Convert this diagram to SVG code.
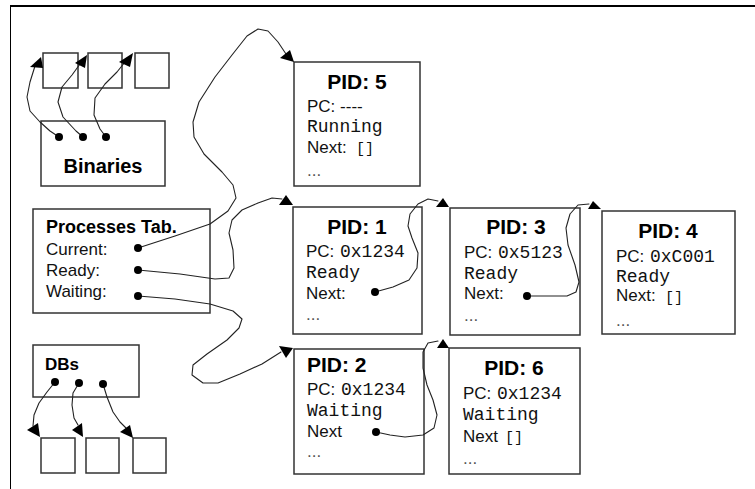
<svg xmlns="http://www.w3.org/2000/svg" width="755" height="489" viewBox="0 0 755 489">
<style>
.box{fill:#fff;stroke:#333;stroke-width:1.5}
.t{font-family:"Liberation Sans",Arial,sans-serif;font-size:17px;fill:#111}
.h{font-family:"Liberation Sans",Arial,sans-serif;font-size:21px;font-weight:bold;fill:#000}
.hs{font-family:"Liberation Sans",Arial,sans-serif;font-size:17px;font-weight:bold;fill:#000}
.m{font-family:"Liberation Mono","Courier New",monospace;font-size:18px;fill:#111}
.br{font-family:"Liberation Mono","Courier New",monospace;font-size:15px;fill:#111}
.dim{fill:#555}
.c{text-anchor:middle}
.conn{fill:none;stroke:#222;stroke-width:1.1;stroke-linejoin:round;stroke-linecap:round}
.dot{fill:#000}
.ah{fill:#000}
.frame{stroke:#000;fill:none}
</style>
<g id="frame">
<line class="frame" x1="10" y1="6" x2="755" y2="6" stroke-width="2"/>
<line class="frame" x1="10.5" y1="6" x2="10.5" y2="489" stroke-width="1"/>
</g>
<g id="binaries-targets">
<rect class="box" x="43" y="53" width="35" height="35"/>
<rect class="box" x="88" y="53" width="34" height="35"/>
<rect class="box" x="135" y="53" width="34" height="35"/>
</g>
<g id="binaries">
<rect class="box" x="41" y="121" width="124" height="65"/>
<text class="h c" x="103" y="173" style="font-size:20px">Binaries</text>
</g>
<g id="processes-tab">
<rect class="box" x="33" y="209" width="177" height="104"/>
<text class="hs" x="46" y="233" style="font-size:18px">Processes Tab.</text>
<text class="t" x="46" y="255">Current:</text>
<text class="t" x="46" y="276">Ready:</text>
<text class="t" x="46" y="297">Waiting:</text>
</g>
<g id="dbs">
<rect class="box" x="33" y="345" width="106" height="52"/>
<text class="hs" x="45" y="370">DBs</text>
</g>
<g id="db-targets">
<rect class="box" x="41" y="438" width="34" height="35"/>
<rect class="box" x="86" y="438" width="33" height="35"/>
<rect class="box" x="133" y="438" width="33" height="35"/>
</g>
<g id="pid5">
<rect class="box" x="294" y="62" width="126" height="124"/>
<text class="h c" x="357" y="89">PID: 5</text>
<text class="t" x="307" y="112">PC: ----</text>
<text class="m" x="307" y="132">Running</text>
<text class="t" x="307" y="153">Next:</text>
<text class="br" x="356" y="153">[]</text>
<text class="t dim" x="307" y="176">...</text>
</g>
<g id="pid1">
<rect class="box" x="293" y="207" width="129" height="127"/>
<text class="h c" x="357" y="234">PID: 1</text>
<text class="t" x="306" y="257">PC:</text>
<text class="m" x="340" y="257">0x1234</text>
<text class="m" x="306" y="278">Ready</text>
<text class="t" x="306" y="299">Next:</text>
<text class="t dim" x="306" y="320">...</text>
</g>
<g id="pid3">
<rect class="box" x="450" y="208" width="130" height="127"/>
<text class="h c" x="516" y="234">PID: 3</text>
<text class="t" x="464" y="258">PC:</text>
<text class="m" x="498" y="258">0x5123</text>
<text class="m" x="464" y="279">Ready</text>
<text class="t" x="464" y="299">Next:</text>
<text class="t dim" x="464" y="321">...</text>
</g>
<g id="pid4">
<rect class="box" x="602" y="211" width="133" height="123"/>
<text class="h c" x="668" y="238">PID: 4</text>
<text class="t" x="616" y="262">PC:</text>
<text class="m" x="650" y="262">0xC001</text>
<text class="m" x="616" y="282">Ready</text>
<text class="t" x="616" y="301">Next:</text>
<text class="br" x="665" y="302">[]</text>
<text class="t dim" x="616" y="326">...</text>
</g>
<g id="pid2">
<rect class="box" x="294" y="349" width="130" height="125"/>
<text class="h" x="307" y="372">PID: 2</text>
<text class="t" x="307" y="395">PC:</text>
<text class="m" x="341" y="395">0x1234</text>
<text class="m" x="307" y="416">Waiting</text>
<text class="t" x="307" y="437">Next</text>
<text class="t dim" x="307" y="457">...</text>
</g>
<g id="pid6">
<rect class="box" x="449" y="348" width="131" height="126"/>
<text class="h c" x="514" y="375">PID: 6</text>
<text class="t" x="463" y="399">PC:</text>
<text class="m" x="497" y="399">0x1234</text>
<text class="m" x="463" y="420">Waiting</text>
<text class="t" x="463" y="442">Next</text>
<text class="br" x="505" y="442">[]</text>
<text class="t dim" x="463" y="464">...</text>
</g>
<g id="connectors">
<path class="conn" d="M138,248 L175,236 L210,224 L228,211 L236,198 L233,185 L222,172 L204,154 L194,137 L193,122 L199,102 L215,77 L232,55 L247,36 L258,29 L268,31 L278,42 L286,54"/>
<polygon class="ah" points="280,58 290,50 294,62"/>
<path class="conn" d="M138,270 L180,274 L215,279 L229,278 L234,268 L233,250 L229,233 L232,220 L242,210 L258,203 L272,198 L282,199"/>
<polygon class="ah" points="279,205 286,195 293,205"/>
<path class="conn" d="M138,296 L175,299 L210,304 L233,311 L242,319 L239,328 L227,340 L207,354 L193,365 L192,375 L203,383 L218,383 L240,374 L262,364 L281,352"/>
<polygon class="ah" points="279,346 293,348 286,358"/>
<path class="conn" d="M375,292 L393,287 L409,280 L417,268 L418,253 L412,238 L408,226 L410,214 L418,204 L428,199 L438,201"/>
<polygon class="ah" points="436,207 443,198 449,207"/>
<path class="conn" d="M527,296 L567,296 L576,292 L579,282 L575,265 L568,245 L566,228 L570,214 L578,205 L589,204"/>
<polygon class="ah" points="588,209 593,201 601,209"/>
<path class="conn" d="M376,432 L390,435 L405,437 L423,435 L434,428 L437,415 L433,400 L427,385 L423,368 L423,352 L428,343 L438,341"/>
<polygon class="ah" points="437,348 443,339 449,348"/>
<path class="conn" d="M59,137 L50,131 L40,122 L30,111 L27,97 L30,82 L35,66"/>
<polygon class="ah" points="30,67 41,57 43,68"/>
<path class="conn" d="M83,137 L76,131 L63,117 L58,102 L62,87 L72,75 L80,64"/>
<polygon class="ah" points="75,63 87,55 85,68"/>
<path class="conn" d="M106,137 L100,129 L94,115 L95,98 L105,84 L117,72 L125,62"/>
<polygon class="ah" points="119,62 133,53 130,67"/>
<path class="conn" d="M55,382 L47,392 L39,403 L34,415 L33,426"/>
<polygon class="ah" points="27,430 38,423 40,437"/>
<path class="conn" d="M79,383 L73,393 L72,405 L74,418 L78,425"/>
<polygon class="ah" points="72,430 82,423 83,437"/>
<path class="conn" d="M103,384 L107,397 L113,412 L120,422 L126,428"/>
<polygon class="ah" points="120,432 130,425 133,438"/>
<circle class="dot" cx="59" cy="137" r="4"/>
<circle class="dot" cx="83" cy="137" r="4"/>
<circle class="dot" cx="106" cy="137" r="4"/>
<circle class="dot" cx="138" cy="248" r="4"/>
<circle class="dot" cx="138" cy="270" r="4"/>
<circle class="dot" cx="138" cy="296" r="4"/>
<circle class="dot" cx="55" cy="382" r="4"/>
<circle class="dot" cx="79" cy="383" r="4"/>
<circle class="dot" cx="103" cy="384" r="4"/>
<circle class="dot" cx="375" cy="292" r="4"/>
<circle class="dot" cx="527" cy="296" r="4"/>
<circle class="dot" cx="376" cy="432" r="4"/>
</g>
</svg>
